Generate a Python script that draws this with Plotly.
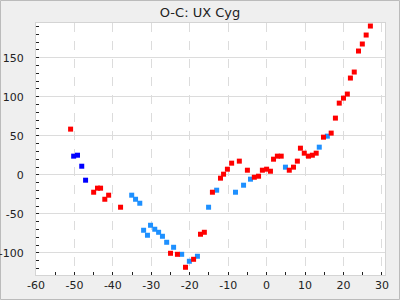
import plotly.graph_objects as go

red_x = [-51, -45, -44, -43.2, -42.1, -41.1, -38, -25, -23.2, -21.1, -19, -17.2, -16.2, -14.1,
         -12, -11.2, -10.2, -9.1, -7.1, -5, -3.2, -2.1, -1.1, 0, 1, 1.8, 2.8, 3.8, 5.9, 7, 8,
         8.8, 9.8, 10.9, 11.9, 12.9, 14.8, 16.8, 17.9, 18.9, 20, 21, 21.8, 22.8, 23.9, 24.9, 25.9, 27]
red_y = [58.6, -22.2, -17, -17, -31.2, -26, -41.4, -100.4, -101.7, -118.3, -108.1, -76, -73.5, -22.2,
         -4.2, 0.9, 7.3, 15, 17.6, 6, -3, -1.7, 6, 7.3, 4.7, 20.1, 24, 24, 6, 9.9, 17.6,
         34.2, 27.8, 24, 25.2, 27.8, 48.3, 53.5, 72.7, 91.9, 98.3, 103.5, 124, 131.7, 158.6, 167.6, 179.1, 190.6]

blue_x = [-50.2, -49.2, -48.1, -47.1]
blue_y = [24, 25.2, 11.1, -6.8]

dodger_x = [-35.1, -34.1, -33, -32, -31, -30.2, -29.1, -28.1, -27.1, -26, -24.2, -22.1, -20.1, -18,
            -15.1, -13, -8.1, -6, -4.2, 4.9, 13.7, 15.8]
dodger_y = [-26, -31.2, -36.3, -70.9, -77.3, -64.5, -69.6, -73.5, -78.6, -86.3, -92.7, -101.7, -110.6, -104.2,
            -41.4, -19.6, -22.2, -13.2, -5.5, 9.9, 35.5, 49.6]

x_ticks = [-60, -50, -40, -30, -20, -10, 0, 10, 20, 30]
y_ticks = [-100, -50, 0, 50, 100, 150]

fig = go.Figure()
for xs, ys, col in [(dodger_x, dodger_y, "#1e90ff"), (blue_x, blue_y, "#0000ff"), (red_x, red_y, "#ff0000")]:
    fig.add_trace(go.Scatter(x=xs, y=ys, mode="markers",
                             marker=dict(symbol="square", size=5, color=col, line=dict(width=0)),
                             showlegend=False))

L, R, T, B = 36, 15, 23, 25
W, H = 400 - L - R, 300 - T - B
fig.add_shape(type="rect", xref="paper", yref="paper",
              x0=-(L - 0.5) / W, x1=1 + (R - 0.5) / W, y0=-(B - 0.5) / H, y1=1 + (T - 0.5) / H,
              line=dict(color="#bbbbbb", width=1), layer="below")

font = dict(family="DejaVu Sans", size=11, color="#222222")
fig.update_layout(
    width=400, height=300,
    margin=dict(l=L, r=R, t=T, b=B, autoexpand=False),
    paper_bgcolor="#efefef", plot_bgcolor="#ffffff",
    title=dict(text="O-C: UX Cyg", x=0.5, xanchor="center", y=1 - 12 / 300, yanchor="middle",
               font=dict(family="DejaVu Sans", size=13, color="#222222")),
    font=font,
    xaxis=dict(range=[-60, 30.8], tickvals=x_ticks, ticktext=[str(v) for v in x_ticks],
               showgrid=True, gridcolor="#dcdcdc", griddash="dash", automargin=False,
               zeroline=False, showline=True, mirror=True, linecolor="#d4d4d4", linewidth=1,
               ticks="inside", ticklen=3, tickcolor="#222222", ticklabelstandoff=0,
               minor=dict(dtick=5, tick0=0, ticks="inside", ticklen=3, tickcolor="#222222", showgrid=False)),
    yaxis=dict(range=[-128.2, 194.5], tickvals=y_ticks, ticktext=[str(v) for v in y_ticks],
               showgrid=True, gridcolor="#dcdcdc", automargin=False,
               zeroline=False, showline=True, mirror=True, linecolor="#d4d4d4", linewidth=1,
               ticks="inside", ticklen=3, tickcolor="#222222", ticklabelstandoff=9,
               minor=dict(dtick=10, tick0=0, ticks="inside", ticklen=3, tickcolor="#222222", showgrid=False)),
)
fig.write_html("out.html")
